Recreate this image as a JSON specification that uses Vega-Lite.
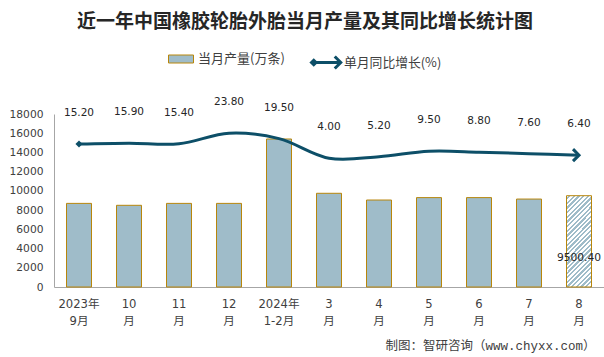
{
  "$schema": "https://vega.github.io/schema/vega-lite/v6.json",
  "width": 550,
  "height": 173,
  "autosize": {"type": "none"},
  "padding": {"left": 54, "top": 114, "right": 0, "bottom": 70},
  "background": "white",
  "title": {
    "text": "近一年中国橡胶轮胎外胎当月产量及其同比增长统计图",
    "font": "Noto Sans CJK SC",
    "fontSize": 19,
    "fontWeight": "bold",
    "color": "#262626",
    "anchor": "middle",
    "frame": "group",
    "dx": -24,
    "dy": 55,
    "baseline": "middle",
    "offset": 60
  },
  "data": {
    "values": [
      {"month": "2023年9月", "output": 8700, "growth": 15.2},
      {"month": "10月", "output": 8500, "growth": 15.9},
      {"month": "11月", "output": 8700, "growth": 15.4},
      {"month": "12月", "output": 8700, "growth": 23.8},
      {"month": "2024年1-2月", "output": 15400, "growth": 19.5},
      {"month": "3月", "output": 9750, "growth": 4.0},
      {"month": "4月", "output": 9050, "growth": 5.2},
      {"month": "5月", "output": 9300, "growth": 9.5},
      {"month": "6月", "output": 9300, "growth": 8.8},
      {"month": "7月", "output": 9150, "growth": 7.6},
      {"month": "8月", "output": 9500.4, "growth": 6.4}
    ]
  },
  "encoding": {
    "x": {
      "field": "month",
      "type": "nominal",
      "sort": null,
      "scale": {
        "domain": ["2023年9月", "10月", "11月", "12月", "2024年1-2月", "3月", "4月", "5月", "6月", "7月", "8月"],
        "paddingInner": 0.5,
        "paddingOuter": 0.25
      },
      "axis": {
        "title": "制图：智研咨询（www.chyxx.com）",
        "titleFont": "Liberation Mono, Noto Sans CJK SC",
        "titleFontSize": 12.5,
        "titleFontWeight": "normal",
        "titleColor": "#404040",
        "titleAlign": "right",
        "titleAnchor": "end",
        "titleBaseline": "middle",
        "titleX": 541,
        "titleY": 58,
        "labelAngle": 0,
        "labelExpr": "indexof(datum.value,'年') > 0 ? [substring(datum.value,0,indexof(datum.value,'年')+1), substring(datum.value,indexof(datum.value,'年')+1)] : [replace(datum.value,'月',''), '月']",
        "labelFont": "DejaVu Sans, Noto Sans CJK SC",
        "labelFontSize": 11.6,
        "labelLineHeight": 17.7,
        "labelColor": "#404040",
        "labelPadding": 11,
        "labelOverlap": false,
        "ticks": false,
        "domain": true,
        "domainColor": "#a6a6a6",
        "domainWidth": 1,
        "grid": false
      }
    }
  },
  "layer": [
    {
      "encoding": {
        "y": {
          "field": "output",
          "type": "quantitative",
          "scale": {"domain": [0, 18000], "nice": false},
          "axis": {
            "title": null,
            "values": [0, 2000, 4000, 6000, 8000, 10000, 12000, 14000, 16000, 18000],
            "format": "d",
            "labelFont": "DejaVu Sans",
            "labelFontSize": 10.7,
            "labelColor": "#404040",
            "labelPadding": 11,
            "labelOverlap": false,
            "labelFlush": false,
            "ticks": false,
            "grid": false,
            "domain": true,
            "domainColor": "#a6a6a6",
            "domainWidth": 1
          }
        }
      },
      "layer": [
        {
          "transform": [{"filter": "datum.month != '8月'"}],
          "mark": {"type": "bar", "stroke": "#b8860b", "strokeWidth": 1},
          "encoding": {
            "fill": {
              "datum": "当月产量(万条)",
              "scale": {"range": ["#9fbcc9"]},
              "legend": {
                "orient": "none",
                "legendX": 114,
                "legendY": -68,
                "title": null,
                "padding": 0,
                "symbolType": "M-1,-0.32H1V0.32H-1Z",
                "symbolSize": 625,
                "symbolStrokeColor": "#b8860b",
                "symbolStrokeWidth": 1,
                "labelFont": "Noto Sans CJK SC",
                "labelFontSize": 13,
                "labelColor": "#404040",
                "labelOffset": 4
              }
            }
          }
        },
        {
          "transform": [{"filter": "datum.month == '8月'"}],
          "mark": {
            "type": "bar",
            "stroke": "#b8860b",
            "strokeWidth": 1,
            "fill": {
              "gradient": "linear",
              "x1": 0, "y1": 0, "x2": 0.326, "y2": 1.185,
              "stops": [
                {"offset": 0, "color": "#ffffff"}, {"offset": 0.02, "color": "#ffffff"}, {"offset": 0.02, "color": "#9fbcc9"}, {"offset": 0.04, "color": "#9fbcc9"},
                {"offset": 0.04, "color": "#ffffff"}, {"offset": 0.06, "color": "#ffffff"}, {"offset": 0.06, "color": "#9fbcc9"}, {"offset": 0.08, "color": "#9fbcc9"},
                {"offset": 0.08, "color": "#ffffff"}, {"offset": 0.10, "color": "#ffffff"}, {"offset": 0.10, "color": "#9fbcc9"}, {"offset": 0.12, "color": "#9fbcc9"},
                {"offset": 0.12, "color": "#ffffff"}, {"offset": 0.14, "color": "#ffffff"}, {"offset": 0.14, "color": "#9fbcc9"}, {"offset": 0.16, "color": "#9fbcc9"},
                {"offset": 0.16, "color": "#ffffff"}, {"offset": 0.18, "color": "#ffffff"}, {"offset": 0.18, "color": "#9fbcc9"}, {"offset": 0.20, "color": "#9fbcc9"},
                {"offset": 0.20, "color": "#ffffff"}, {"offset": 0.22, "color": "#ffffff"}, {"offset": 0.22, "color": "#9fbcc9"}, {"offset": 0.24, "color": "#9fbcc9"},
                {"offset": 0.24, "color": "#ffffff"}, {"offset": 0.26, "color": "#ffffff"}, {"offset": 0.26, "color": "#9fbcc9"}, {"offset": 0.28, "color": "#9fbcc9"},
                {"offset": 0.28, "color": "#ffffff"}, {"offset": 0.30, "color": "#ffffff"}, {"offset": 0.30, "color": "#9fbcc9"}, {"offset": 0.32, "color": "#9fbcc9"},
                {"offset": 0.32, "color": "#ffffff"}, {"offset": 0.34, "color": "#ffffff"}, {"offset": 0.34, "color": "#9fbcc9"}, {"offset": 0.36, "color": "#9fbcc9"},
                {"offset": 0.36, "color": "#ffffff"}, {"offset": 0.38, "color": "#ffffff"}, {"offset": 0.38, "color": "#9fbcc9"}, {"offset": 0.40, "color": "#9fbcc9"},
                {"offset": 0.40, "color": "#ffffff"}, {"offset": 0.42, "color": "#ffffff"}, {"offset": 0.42, "color": "#9fbcc9"}, {"offset": 0.44, "color": "#9fbcc9"},
                {"offset": 0.44, "color": "#ffffff"}, {"offset": 0.46, "color": "#ffffff"}, {"offset": 0.46, "color": "#9fbcc9"}, {"offset": 0.48, "color": "#9fbcc9"},
                {"offset": 0.48, "color": "#ffffff"}, {"offset": 0.50, "color": "#ffffff"}, {"offset": 0.50, "color": "#9fbcc9"}, {"offset": 0.52, "color": "#9fbcc9"},
                {"offset": 0.52, "color": "#ffffff"}, {"offset": 0.54, "color": "#ffffff"}, {"offset": 0.54, "color": "#9fbcc9"}, {"offset": 0.56, "color": "#9fbcc9"},
                {"offset": 0.56, "color": "#ffffff"}, {"offset": 0.58, "color": "#ffffff"}, {"offset": 0.58, "color": "#9fbcc9"}, {"offset": 0.60, "color": "#9fbcc9"},
                {"offset": 0.60, "color": "#ffffff"}, {"offset": 0.62, "color": "#ffffff"}, {"offset": 0.62, "color": "#9fbcc9"}, {"offset": 0.64, "color": "#9fbcc9"},
                {"offset": 0.64, "color": "#ffffff"}, {"offset": 0.66, "color": "#ffffff"}, {"offset": 0.66, "color": "#9fbcc9"}, {"offset": 0.68, "color": "#9fbcc9"},
                {"offset": 0.68, "color": "#ffffff"}, {"offset": 0.70, "color": "#ffffff"}, {"offset": 0.70, "color": "#9fbcc9"}, {"offset": 0.72, "color": "#9fbcc9"},
                {"offset": 0.72, "color": "#ffffff"}, {"offset": 0.74, "color": "#ffffff"}, {"offset": 0.74, "color": "#9fbcc9"}, {"offset": 0.76, "color": "#9fbcc9"},
                {"offset": 0.76, "color": "#ffffff"}, {"offset": 0.78, "color": "#ffffff"}, {"offset": 0.78, "color": "#9fbcc9"}, {"offset": 0.80, "color": "#9fbcc9"},
                {"offset": 0.80, "color": "#ffffff"}, {"offset": 0.82, "color": "#ffffff"}, {"offset": 0.82, "color": "#9fbcc9"}, {"offset": 0.84, "color": "#9fbcc9"},
                {"offset": 0.84, "color": "#ffffff"}, {"offset": 0.86, "color": "#ffffff"}, {"offset": 0.86, "color": "#9fbcc9"}, {"offset": 0.88, "color": "#9fbcc9"},
                {"offset": 0.88, "color": "#ffffff"}, {"offset": 0.90, "color": "#ffffff"}, {"offset": 0.90, "color": "#9fbcc9"}, {"offset": 0.92, "color": "#9fbcc9"},
                {"offset": 0.92, "color": "#ffffff"}, {"offset": 0.94, "color": "#ffffff"}, {"offset": 0.94, "color": "#9fbcc9"}, {"offset": 0.96, "color": "#9fbcc9"},
                {"offset": 0.96, "color": "#ffffff"}, {"offset": 0.98, "color": "#ffffff"}, {"offset": 0.98, "color": "#9fbcc9"}, {"offset": 1, "color": "#9fbcc9"}
              ]
            }
          }
        },
        {
          "transform": [{"filter": "datum.month == '8月'"}],
          "mark": {"type": "text", "font": "DejaVu Sans", "fontSize": 10.7, "color": "#262626", "baseline": "middle", "dy": 62},
          "encoding": {
            "text": {"field": "output", "type": "quantitative", "format": ".2f"}
          }
        }
      ]
    },
    {
      "encoding": {
        "y": {
          "field": "growth",
          "type": "quantitative",
          "scale": {"domain": [-98, 39], "nice": false, "zero": false},
          "axis": null
        }
      },
      "layer": [
        {
          "mark": {"type": "line", "interpolate": "catmull-rom", "strokeWidth": 3},
          "encoding": {
            "stroke": {
              "datum": "单月同比增长(%)",
              "scale": {"range": ["#0d4f68"]},
              "legend": {
                "orient": "none",
                "legendX": 256,
                "legendY": -68,
                "title": null,
                "padding": 0,
                "symbolType": "M-0.95,0H0.93M0.55,-0.4L0.95,0L0.55,0.4M-1,0L-0.85,-0.15L-0.7,0L-0.85,0.15Z",
                "symbolSize": 900,
                "symbolStrokeWidth": 3,
                "labelFont": "Noto Sans CJK SC",
                "labelFontSize": 12.8,
                "labelColor": "#404040",
                "labelOffset": 1
              }
            }
          }
        },
        {
          "transform": [{"filter": "datum.month == '2023年9月'"}],
          "mark": {"type": "point", "shape": "diamond", "filled": true, "size": 50, "color": "#0d4f68", "opacity": 1}
        },
        {
          "transform": [{"filter": "datum.month == '8月'"}],
          "mark": {"type": "point", "shape": "M-1,-1L0,0L-1,1", "filled": false, "size": 144, "stroke": "#0d4f68", "strokeWidth": 3, "opacity": 1}
        },
        {
          "mark": {"type": "text", "font": "DejaVu Sans", "fontSize": 10.5, "color": "#262626", "baseline": "middle", "dy": -31},
          "encoding": {
            "text": {"field": "growth", "type": "quantitative", "format": ".2f"}
          }
        }
      ]
    }
  ],
  "resolve": {"scale": {"y": "independent"}},
  "config": {
    "view": {"stroke": null},
    "axis": {"labelOverlap": false}
  }
}
